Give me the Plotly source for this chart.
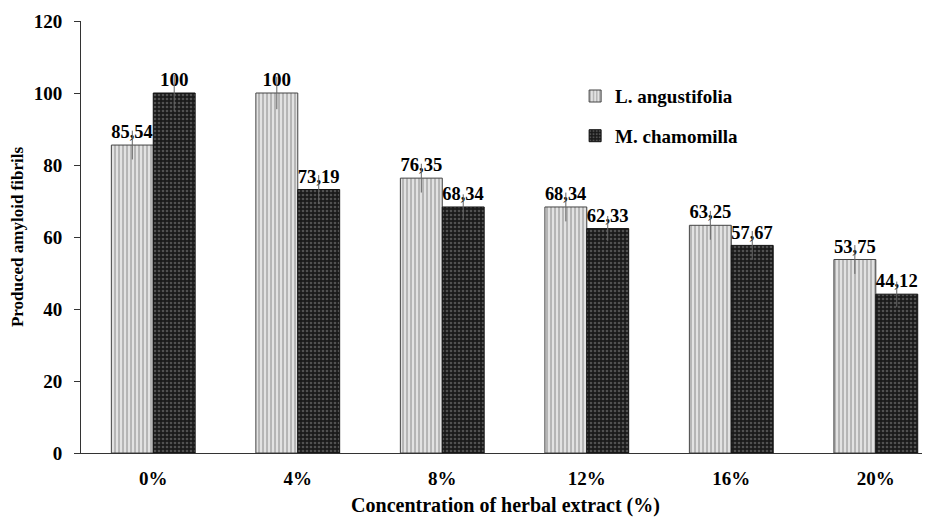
import plotly.graph_objects as go

categories = ["0%", "4%", "8%", "12%", "16%", "20%"]
lav = [85.54, 100, 76.35, 68.34, 63.25, 53.75]
cham = [100, 73.19, 68.34, 62.33, 57.67, 44.12]
lav_err = [4, 4.5, 4, 4, 4, 4]
cham_err = [5, 4, 3.5, 3.5, 4, 3.5]
lav_labels = ["85,54", "100", "76,35", "68,34", "63,25", "53,75"]
cham_labels = ["100", "73,19", "68,34", "62,33", "57,67", "44,12"]

font = "Liberation Serif"

fig = go.Figure()
fig.add_trace(go.Bar(
    x=categories, y=lav, name="<b>L. angustifolia</b>", legendgroup="a",
    text=lav_labels, textposition="outside", cliponaxis=False,
    textfont=dict(family=font, size=19, color="black"),
    marker=dict(color="#dcdcdc", line=dict(color="#444", width=1),
                pattern=dict(shape="|", fgcolor="#7f7f7f", bgcolor="#e2e2e2", size=4, solidity=0.45)),
    error_y=dict(type="data", array=lav_err, color="#666", thickness=1, width=0),
))
fig.add_trace(go.Bar(
    x=categories, y=cham, name="<b>M. chamomilla</b>", legendgroup="b",
    text=cham_labels, textposition="outside", cliponaxis=False,
    textfont=dict(family=font, size=19, color="black"),
    marker=dict(color="#222", line=dict(color="#111", width=1),
                pattern=dict(shape=".", fgcolor="#888", bgcolor="#1a1a1a", size=4, solidity=0.35)),
    error_y=dict(type="data", array=cham_err, color="#666", thickness=1, width=0),
))

fig.update_layout(
    width=930, height=524,
    margin=dict(l=73, r=8, t=13, b=79),
    paper_bgcolor="white", plot_bgcolor="white",
    barmode="group", bargap=0.42, bargroupgap=0,
    font=dict(family=font, size=19, color="black"),
    uniformtext=dict(mode=False),
    showlegend=True,
    legend=dict(x=0.582, y=0.87, xanchor="left", yanchor="top",
                font=dict(family=font, size=19, color="black"),
                tracegroupgap=12, itemwidth=30, bgcolor="rgba(0,0,0,0)"),
    xaxis=dict(range=[-0.5, 5.375], showline=True, linecolor="#333", linewidth=1,
               ticks="", automargin=False, ticklabelstandoff=8,
               tickfont=dict(family=font, size=19, color="black"),
               title=dict(text="<b>Concentration of herbal extract (%)</b>",
                          font=dict(family=font, size=20), standoff=10),
               tickprefix="<b>", ticksuffix="</b>"),
    yaxis=dict(range=[0, 120], dtick=20, showline=True, linecolor="#333", linewidth=1,
               ticks="outside", ticklen=6, tickcolor="#333", showgrid=False, zeroline=False,
               automargin=False, ticklabelstandoff=8,
               tickfont=dict(family=font, size=19, color="black"),
               tickprefix="<b>", ticksuffix="</b>",
               title=dict(text="<b>Produced amyloid fibrils</b>",
                          font=dict(family=font, size=17), standoff=14)),
)
fig.update_traces(texttemplate="<b>%{text}</b>")

fig.write_html("out.html")
